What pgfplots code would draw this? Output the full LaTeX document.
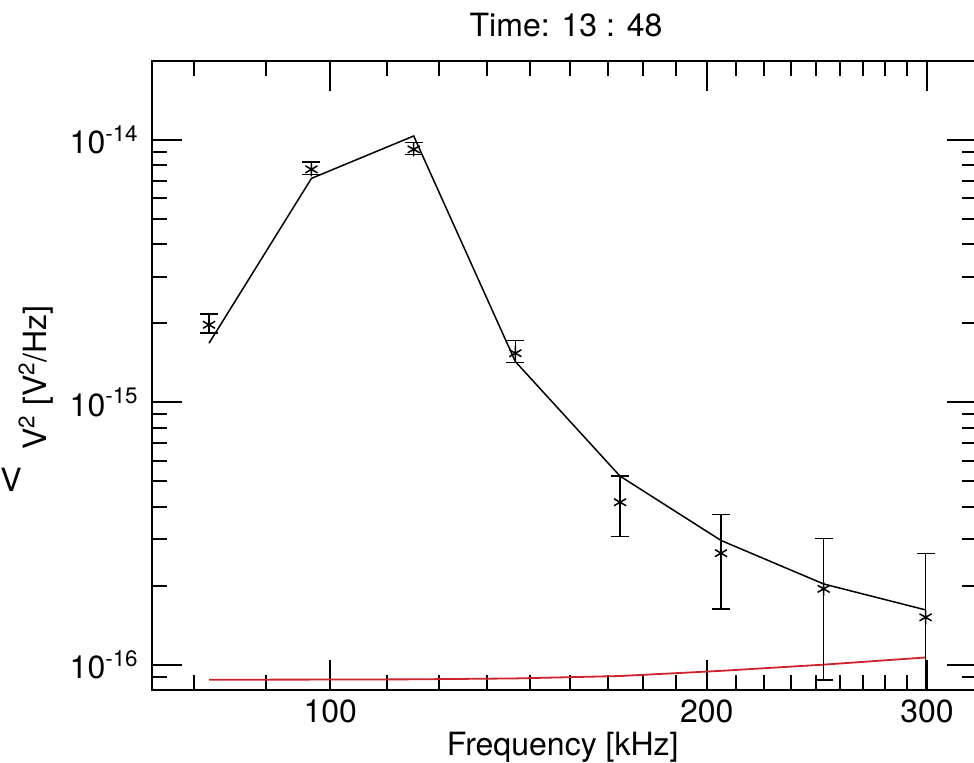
\documentclass[border=0pt]{standalone}
\usepackage{fontspec}
\setmainfont{TeX Gyre Heros}
\usepackage{pgfplots}
\pgfplotsset{compat=1.18}
\usepackage{pgfplotstable}
\definecolor{modred}{RGB}{205,35,45}

\pgfplotstableread{
x y ep em
80.0 1.975e-15 0.195e-15 0.14e-15
96.6 7.73e-15 0.51e-15 0.355e-15
116.6 9.21e-15 0.56e-15 0.39e-15
140.6 1.539e-15 0.18e-15 0.122e-15
170.5 4.16e-16 1.07e-16 1.08e-16
205.3 2.66e-16 1.08e-16 1.03e-16
248.0 1.945e-16 1.075e-16 1.072e-16
299.2 1.515e-16 1.135e-16 1.135e-16
}\obs

\pgfplotstableread{
x y
80.0 1.68e-15
96.6 7.14e-15
116.6 1.036e-14
140.6 1.43e-15
170.5 5.23e-16
205.3 2.975e-16
248.0 2.03e-16
299.2 1.617e-16
}\model

\pgfplotstableread{
x y
80.0 8.76e-17
96.6 8.77e-17
116.6 8.79e-17
140.6 8.86e-17
170.5 9.05e-17
205.3 9.47e-17
248.0 1.0e-16
299.2 1.065e-16
}\noise

\begin{document}
\begin{tikzpicture}[font=\fontsize{16}{19.2}\selectfont]
\begin{axis}[
  at={(75.85pt,36pt)}, anchor=south west,
  scale only axis, width=412.65pt, height=314.5pt,
  xmode=log, ymode=log,
  xmin=72.0, xmax=328.9, ymin=8e-17, ymax=2e-14,
  axis line style={line width=1pt, black},
  tick style={line width=1pt, black},
  major tick length=15pt, minor tick length=7.5pt,
  tick align=inside,
  xtick={100,200,300}, xticklabels={100,200,300},
  minor xtick={77.78,88.89,111.11,122.22,133.33,144.44,155.56,166.67,177.78,188.89,211.11,222.22,233.33,244.44,255.56,266.67,277.78,288.89},
  ytick={1e-16,1e-15,1e-14},
  yticklabels={10\textsuperscript{-16},10\textsuperscript{-15},10\textsuperscript{-14}},
  minor ytick={9e-17,2e-16,3e-16,4e-16,5e-16,6e-16,7e-16,8e-16,9e-16,2e-15,3e-15,4e-15,5e-15,6e-15,7e-15,8e-15,9e-15},
  xticklabel style={anchor=base, yshift=-16pt},
  yticklabel style={anchor=east, xshift=-3pt},
  title={Time: 13 : 48},
  title style={at={(0.502,1)}, anchor=base, yshift=6.5pt},
  xlabel={Frequency [kHz]},
  xlabel style={at={(0.498,0)}, anchor=base, yshift=-32.5pt},
  ylabel={V\textsuperscript{2} [V\textsuperscript{2}/Hz]},
  every axis y label/.style={at={(axis description cs:0,0.497)}, xshift=-52.4pt, rotate=90, anchor=base},
  clip=true,
]
\addplot[modred, line width=0.9pt, mark=none] table[x=x,y=y]{\noise};
\addplot[black, line width=0.75pt, mark=none] table[x=x,y=y]{\model};
\addplot[black, only marks, mark=asterisk, mark size=3.5pt, mark options={line width=0.75pt},
  error bars/.cd, y dir=both, y explicit,
  error bar style={line width=0.75pt, black},
  error mark=-,
  error mark options={rotate=90, mark size=4.5pt, line width=0.75pt, black}]
  table[x=x, y=y, y error plus=ep, y error minus=em]{\obs};
\end{axis}
\node[anchor=base west, inner sep=0pt] at (0pt,135.15pt) {V};
\pgfresetboundingbox
\path[use as bounding box] (0,0) rectangle (487pt,381pt);
\end{tikzpicture}
\end{document}
